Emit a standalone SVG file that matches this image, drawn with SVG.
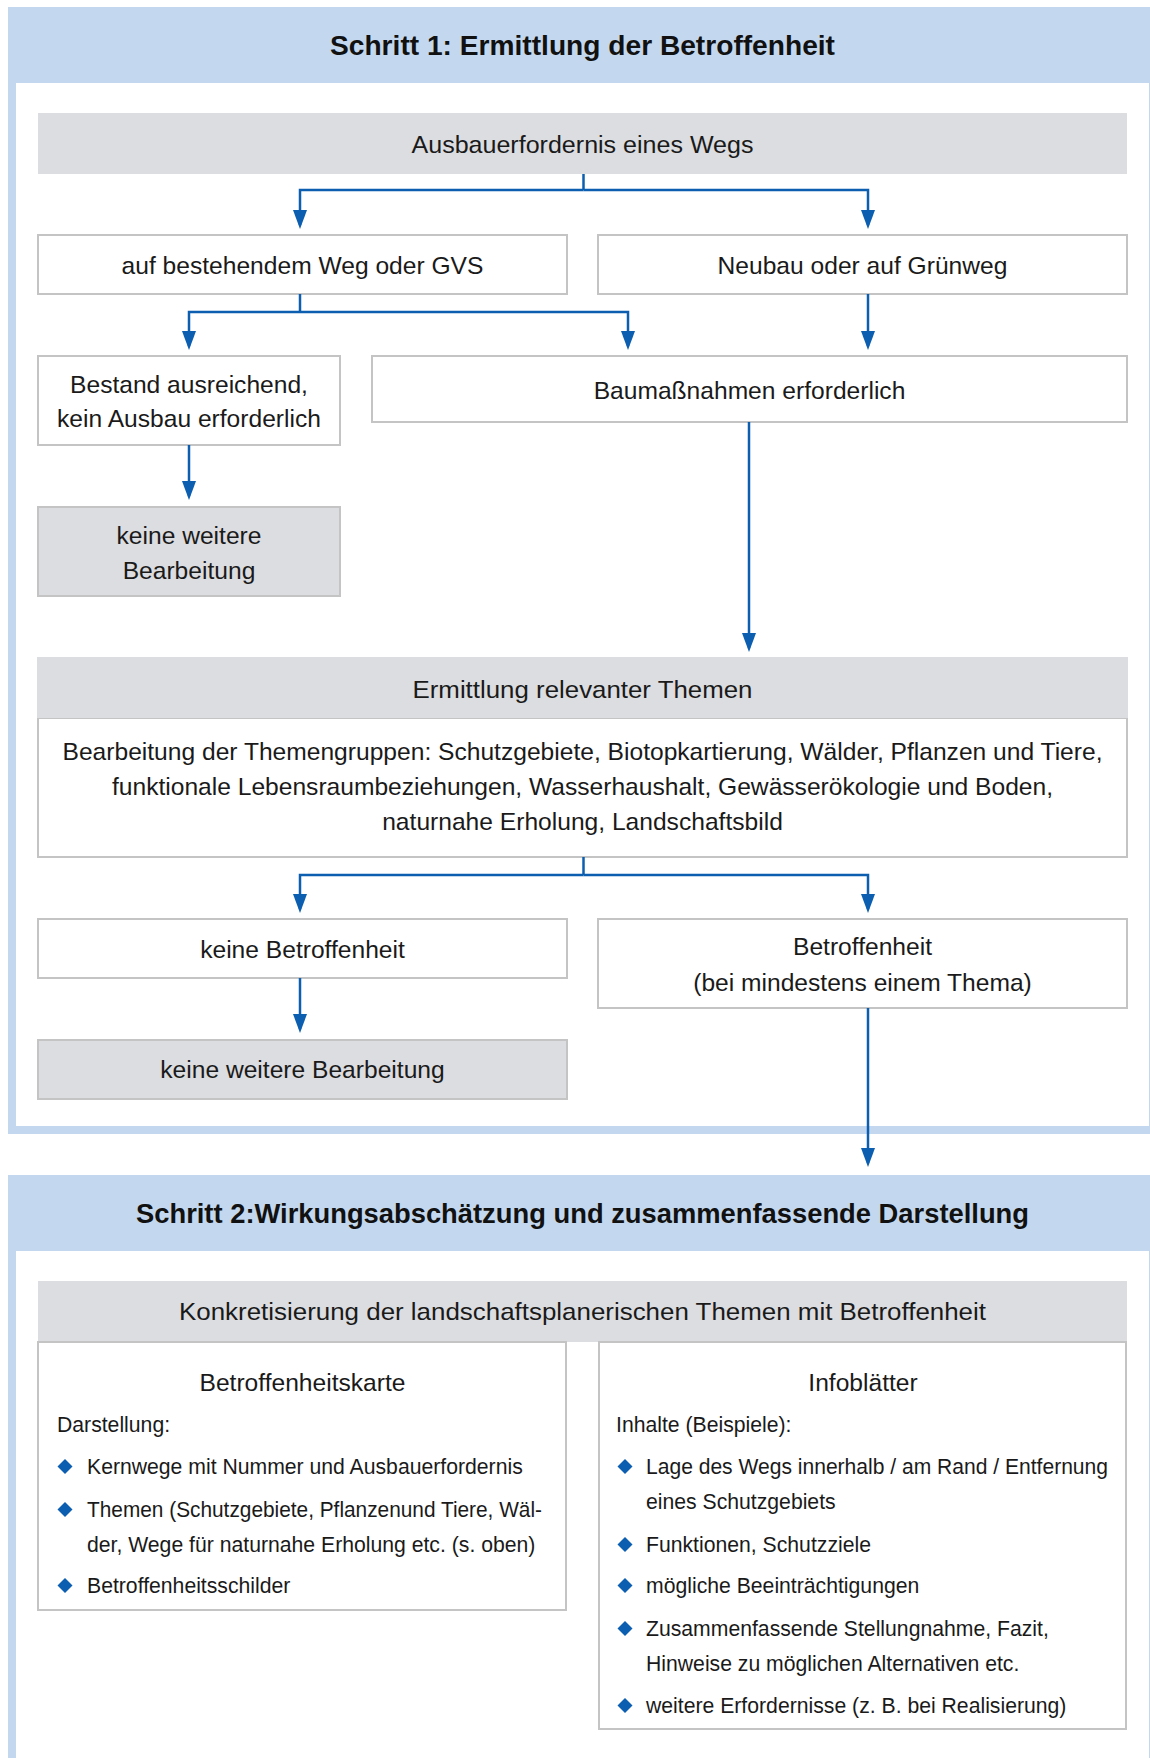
<svg xmlns="http://www.w3.org/2000/svg" width="1150" height="1758" viewBox="0 0 1150 1758">
<defs>
<style>
.frame{fill:#c3d8ef}
.inner{fill:#ffffff}
.box{fill:#ffffff;stroke:#c4c4c4;stroke-width:2}
.gbox{fill:#dcdde0;stroke:#c4c4c4;stroke-width:2}
.ghead{fill:#dcdde0}
.t{font-family:"Liberation Sans",Arial,sans-serif;font-size:24.6px;fill:#1a1a1a;text-anchor:middle}
.l{font-family:"Liberation Sans",Arial,sans-serif;font-size:21.2px;fill:#1a1a1a}
.title{font-family:"Liberation Sans",Arial,sans-serif;font-size:27px;font-weight:bold;fill:#111;text-anchor:middle}
.c{fill:none;stroke:#0b5eb0;stroke-width:2.5}
.dia{fill:#0b5eb0}
</style>
<marker id="ah" viewBox="0 -7 19 14" refX="15" refY="0" markerWidth="19" markerHeight="14" markerUnits="userSpaceOnUse" orient="auto">
<path d="M0,-7 L19,0 L0,7 z" fill="#0b5eb0"/>
</marker>
</defs>

<g id="step1">
<rect class="frame" x="8" y="7" width="1142" height="1127"/>
<rect class="inner" x="16" y="83" width="1133" height="1043"/>
<text class="title" x="582.5" y="55" textLength="505" lengthAdjust="spacingAndGlyphs">Schritt 1: Ermittlung der Betroffenheit</text>
</g>

<g id="step2">
<rect class="frame" x="8" y="1175" width="1142" height="583"/>
<rect class="inner" x="16" y="1251" width="1133" height="507"/>
<text class="title" x="582.5" y="1223" textLength="893" lengthAdjust="spacingAndGlyphs">Schritt 2:Wirkungsabschätzung und zusammenfassende Darstellung</text>
</g>

<g id="n-ausbau">
<rect class="ghead" x="38" y="113" width="1089" height="61"/>
<text class="t" x="582.5" y="153" textLength="342" lengthAdjust="spacingAndGlyphs">Ausbauerfordernis eines Wegs</text>
</g>

<g id="n-bestehend">
<rect class="box" x="38" y="235" width="529" height="59"/>
<text class="t" x="302.5" y="274">auf bestehendem Weg oder GVS</text>
</g>

<g id="n-neubau">
<rect class="box" x="598" y="235" width="529" height="59"/>
<text class="t" x="862.5" y="274">Neubau oder auf Grünweg</text>
</g>

<g id="n-bestand">
<rect class="box" x="38" y="356" width="302" height="89"/>
<text class="t" x="189" y="393">Bestand ausreichend,</text>
<text class="t" x="189" y="427">kein Ausbau erforderlich</text>
</g>

<g id="n-baumassnahmen">
<rect class="box" x="372" y="356" width="755" height="66"/>
<text class="t" x="749.5" y="399">Baumaßnahmen erforderlich</text>
</g>

<g id="n-keine1">
<rect class="gbox" x="38" y="507" width="302" height="89"/>
<text class="t" x="189" y="544">keine weitere</text>
<text class="t" x="189" y="579">Bearbeitung</text>
</g>

<g id="n-themen">
<rect class="box" x="38" y="718" width="1089" height="139"/>
<rect class="ghead" x="37" y="657" width="1091" height="61"/>
<text class="t" x="582.5" y="698" textLength="340" lengthAdjust="spacingAndGlyphs">Ermittlung relevanter Themen</text>
<text class="t" x="582.5" y="760">Bearbeitung der Themengruppen: Schutzgebiete, Biotopkartierung, Wälder, Pflanzen und Tiere,</text>
<text class="t" x="582.5" y="795">funktionale Lebensraumbeziehungen, Wasserhaushalt, Gewässerökologie und Boden,</text>
<text class="t" x="582.5" y="830">naturnahe Erholung, Landschaftsbild</text>
</g>

<g id="n-keinebetr">
<rect class="box" x="38" y="919" width="529" height="59"/>
<text class="t" x="302.5" y="958">keine Betroffenheit</text>
</g>

<g id="n-betr">
<rect class="box" x="598" y="919" width="529" height="89"/>
<text class="t" x="862.5" y="955">Betroffenheit</text>
<text class="t" x="862.5" y="991">(bei mindestens einem Thema)</text>
</g>

<g id="n-keine2">
<rect class="gbox" x="38" y="1040" width="529" height="59"/>
<text class="t" x="302.5" y="1078">keine weitere Bearbeitung</text>
</g>

<g id="n-konkret">
<rect class="ghead" x="38" y="1281" width="1089" height="61"/>
<text class="t" x="582.5" y="1320" textLength="807" lengthAdjust="spacingAndGlyphs">Konkretisierung der landschaftsplanerischen Themen mit Betroffenheit</text>
</g>

<g id="n-karte">
<rect class="box" x="38" y="1342" width="528" height="268"/>
<text class="t" x="302.5" y="1391">Betroffenheitskarte</text>
<text class="l" x="57" y="1432">Darstellung:</text>
<path class="dia" d="M65,1459 L72.5,1466.5 L65,1474 L57.5,1466.5 z"/>
<text class="l" x="87" y="1474">Kernwege mit Nummer und Ausbauerfordernis</text>
<path class="dia" d="M65,1502 L72.5,1509.5 L65,1517 L57.5,1509.5 z"/>
<text class="l" x="87" y="1517" textLength="455" lengthAdjust="spacingAndGlyphs">Themen (Schutzgebiete, Pflanzenund Tiere, Wäl-</text>
<text class="l" x="87" y="1552">der, Wege für naturnahe Erholung etc. (s. oben)</text>
<path class="dia" d="M65,1578 L72.5,1585.5 L65,1593 L57.5,1585.5 z"/>
<text class="l" x="87" y="1593">Betroffenheitsschilder</text>
</g>

<g id="n-info">
<rect class="box" x="599" y="1342" width="527" height="387"/>
<text class="t" x="863" y="1391">Infoblätter</text>
<text class="l" x="616" y="1432">Inhalte (Beispiele):</text>
<path class="dia" d="M625,1459 L632.5,1466.5 L625,1474 L617.5,1466.5 z"/>
<text class="l" x="646" y="1474" textLength="462" lengthAdjust="spacingAndGlyphs">Lage des Wegs innerhalb / am Rand / Entfernung</text>
<text class="l" x="646" y="1509">eines Schutzgebiets</text>
<path class="dia" d="M625,1537 L632.5,1544.5 L625,1552 L617.5,1544.5 z"/>
<text class="l" x="646" y="1552">Funktionen, Schutzziele</text>
<path class="dia" d="M625,1578 L632.5,1585.5 L625,1593 L617.5,1585.5 z"/>
<text class="l" x="646" y="1593">mögliche Beeinträchtigungen</text>
<path class="dia" d="M625,1621 L632.5,1628.5 L625,1636 L617.5,1628.5 z"/>
<text class="l" x="646" y="1636">Zusammenfassende Stellungnahme, Fazit,</text>
<text class="l" x="646" y="1671">Hinweise zu möglichen Alternativen etc.</text>
<path class="dia" d="M625,1698 L632.5,1705.5 L625,1713 L617.5,1705.5 z"/>
<text class="l" x="646" y="1713">weitere Erfordernisse (z. B. bei Realisierung)</text>
</g>

<g id="connectors">
<path class="c" d="M583.5,174 V190"/>
<path class="c" d="M583.5,190 H300 V225" marker-end="url(#ah)"/>
<path class="c" d="M583.5,190 H868 V225" marker-end="url(#ah)"/>
<path class="c" d="M300,294 V312"/>
<path class="c" d="M300,312 H189 V346" marker-end="url(#ah)"/>
<path class="c" d="M300,312 H628 V346" marker-end="url(#ah)"/>
<path class="c" d="M868,294 V346" marker-end="url(#ah)"/>
<path class="c" d="M189,445 V496" marker-end="url(#ah)"/>
<path class="c" d="M749,422 V648" marker-end="url(#ah)"/>
<path class="c" d="M583.5,857 V875"/>
<path class="c" d="M583.5,875 H300 V909" marker-end="url(#ah)"/>
<path class="c" d="M583.5,875 H868 V909" marker-end="url(#ah)"/>
<path class="c" d="M300,978 V1029" marker-end="url(#ah)"/>
<path class="c" d="M868,1008 V1163" marker-end="url(#ah)"/>
</g>
</svg>
